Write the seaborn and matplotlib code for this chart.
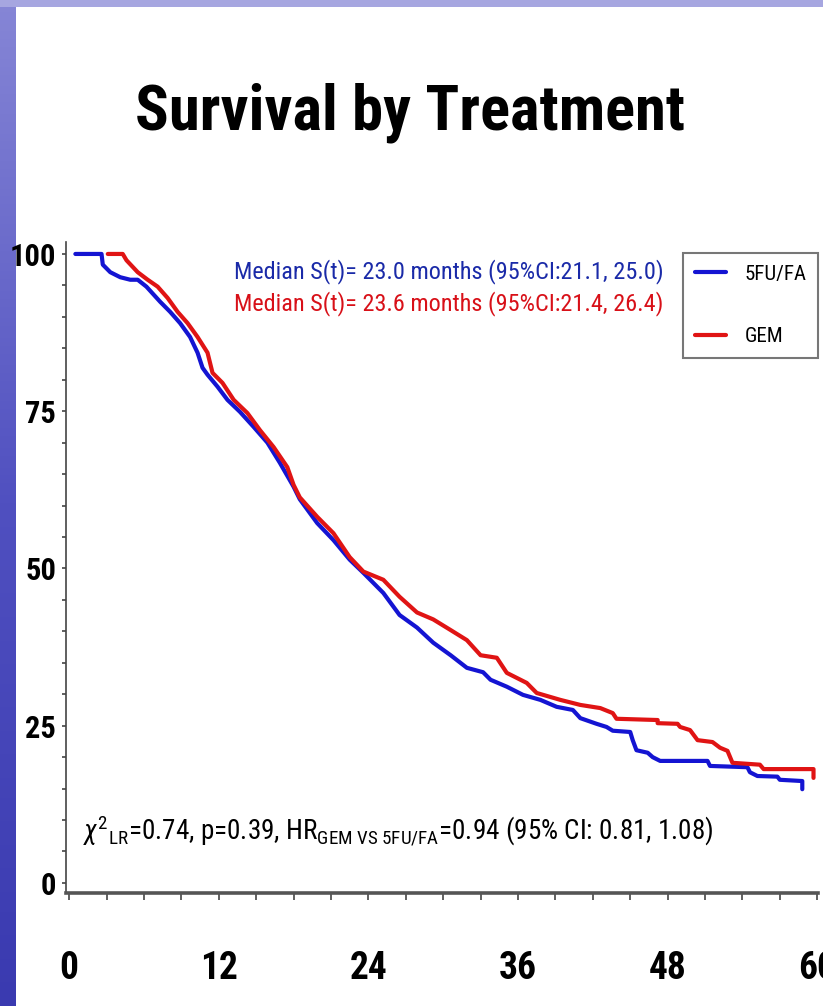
import numpy as np
import pandas as pd
import matplotlib
matplotlib.use("Agg")
import matplotlib.pyplot as plt
import matplotlib.font_manager as fm
import seaborn as sns
from matplotlib.patches import Rectangle
from matplotlib.lines import Line2D

# Kaplan-Meier estimates (months, percent surviving)
months_5fu = [0.5, 2.6, 2.7, 3.3, 4.1, 4.9, 5.5, 6.2, 7.3, 8.1, 8.9, 9.7, 10.3, 10.7,
              11.1, 11.9, 12.7, 13.7, 14.8, 15.9, 16.9, 18.0, 18.5, 19.9, 21.2, 22.5,
              23.6, 25.2, 26.5, 27.9, 29.2, 30.6, 31.9, 33.2, 33.8, 35.1, 36.4, 37.8,
              39.1, 40.4, 41.0, 42.3, 43.1, 43.6, 45.0, 45.2, 45.5, 46.4, 46.8, 47.4,
              51.2, 51.4, 54.4, 54.6, 55.2, 56.8, 57.0, 58.8, 58.8]
surv_5fu = [100, 100, 98.3, 97.1, 96.3, 95.9, 95.9, 94.8, 92.4, 90.8, 89.0, 86.8, 84.3,
            81.9, 80.8, 78.9, 76.8, 74.9, 72.5, 70.0, 66.8, 63.0, 61.0, 57.2, 54.5, 51.4,
            49.3, 46.1, 42.6, 40.6, 38.2, 36.2, 34.2, 33.5, 32.3, 31.2, 29.9, 29.1, 28.0,
            27.5, 26.2, 25.3, 24.8, 24.2, 24.0, 22.7, 21.1, 20.7, 20.0, 19.4, 19.4, 18.6,
            18.4, 17.6, 17.0, 16.9, 16.4, 16.2, 14.9]

months_gem = [3.1, 4.3, 4.6, 5.5, 6.3, 7.1, 7.9, 8.7, 9.5, 10.3, 11.1, 11.5, 12.3, 13.2,
              14.3, 15.3, 16.4, 17.5, 18.0, 18.5, 19.9, 21.2, 22.5, 23.6, 25.2, 26.5,
              27.9, 29.2, 30.6, 31.9, 33.0, 34.3, 35.1, 36.7, 37.5, 39.4, 40.4, 41.0,
              42.6, 43.6, 43.9, 47.2, 47.2, 48.8, 49.0, 49.8, 50.4, 51.6, 52.2, 52.8,
              53.2, 55.4, 55.7, 59.7, 59.7]
surv_gem = [100, 100, 99.0, 97.1, 95.9, 94.8, 93.0, 90.8, 89.0, 86.8, 84.3, 81.1, 79.5,
            76.8, 74.7, 72.0, 69.3, 66.1, 63.3, 61.3, 58.2, 55.6, 51.8, 49.5, 48.2, 45.5,
            43.0, 41.9, 40.2, 38.6, 36.2, 35.8, 33.4, 31.8, 30.2, 29.1, 28.6, 28.3, 27.8,
            27.0, 26.1, 25.9, 25.4, 25.3, 24.8, 24.3, 22.7, 22.4, 21.5, 21.0, 19.1, 18.8,
            18.1, 18.1, 16.7]

arm_names = ["5FU/FA", "GEM"]
arm_colors = ["#1414d2", "#e01414"]
x_ticks = [0, 12, 24, 36, 48, 60]
y_ticks = [0, 25, 50, 75, 100]

median_lines = [
    "Median S(t)= 23.0 months (95%CI:21.1, 25.0)",
    "Median S(t)= 23.6 months (95%CI:21.4, 26.4)",
]
median_colors = ["#1a2aa8", "#d81018"]
stats_text = (r"$\chi^{2}{}_{\mathrm{LR}}$=0.74, p=0.39, "
              r"HR$_{\mathrm{GEM\ VS\ 5FU/FA}}$=0.94 (95% CI: 0.81, 1.08)")
title_text = "Survival by Treatment"

df = pd.concat([
    pd.DataFrame({"month": months_5fu, "survival": surv_5fu, "arm": arm_names[0]}),
    pd.DataFrame({"month": months_gem, "survival": surv_gem, "arm": arm_names[1]}),
], ignore_index=True)

sns.set_theme(style="white")

# pick the narrowest installed sans family
installed = {f.name for f in fm.fontManager.ttflist}
candidates = ["Liberation Sans Narrow", "Noto Sans ExtraCondensed",
              "Noto Sans Condensed", "Roboto Condensed", "Open Sans Condensed",
              "DejaVu Sans Condensed"]
narrow_family = next((c for c in candidates if c in installed), None)
stretch = "normal"
if narrow_family is None:
    narrow_family = "DejaVu Sans"
    stretch = "condensed"
plt.rcParams["font.family"] = [narrow_family, "DejaVu Sans"]
plt.rcParams["font.stretch"] = stretch
plt.rcParams["mathtext.fontset"] = "custom"
plt.rcParams["mathtext.rm"] = narrow_family
plt.rcParams["mathtext.it"] = narrow_family + ":italic"
plt.rcParams["mathtext.bf"] = narrow_family + ":bold"

W, H = 823, 1006
fig = plt.figure(figsize=(W / 100, H / 100), dpi=100)
fig.patch.set_facecolor("white")

# slide frame: lavender band on top, blue band down the left side
bg = fig.add_axes([0, 0, 1, 1], zorder=-10)
grad = np.linspace(0, 1, 256)[:, None]
bg.imshow(grad, aspect="auto", extent=[0, 16 / W, 0, 1],
          cmap=matplotlib.colors.LinearSegmentedColormap.from_list(
              "frame", ["#8686d6", "#5050c0", "#3a3ab0"]), origin="upper")
bg.add_patch(Rectangle((0, 1 - 7 / H), 1, 7 / H, color="#a6a6e0", lw=0))
bg.set_xlim(0, 1)
bg.set_ylim(0, 1)
bg.axis("off")

ax = fig.add_axes([66 / W, 1 - 893 / H, 752 / W, 651 / H])
sns.lineplot(data=df, x="month", y="survival", hue="arm", estimator=None,
             sort=False, palette=arm_colors, linewidth=3.0, ax=ax, legend=False)
ax.set_xlim(-0.25, 60.06)
ax.set_ylim(-1.6, 101.9)
ax.set_xlabel("")
ax.set_ylabel("")

for s in ["top", "right"]:
    ax.spines[s].set_visible(False)
ax.spines["left"].set_color("#444444")
ax.spines["left"].set_linewidth(1.2)
ax.spines["bottom"].set_color("#555555")
ax.spines["bottom"].set_linewidth(2.6)

ax.set_xticks(x_ticks)
ax.set_xticks(np.arange(0, 61, 3), minor=True)
ax.set_yticks(y_ticks)
ax.set_yticks(np.arange(0, 101, 5), minor=True)
ax.set_xticklabels([str(v) for v in x_ticks])
ax.set_yticklabels([str(v) for v in y_ticks])
ax.tick_params(axis="x", which="both", bottom=True, direction="out", length=5,
               width=1.2, color="#444444", pad=36, labelsize=27)
ax.tick_params(axis="y", which="both", left=True, direction="out", length=3,
               width=1.2, color="#444444", pad=4, labelsize=22)
for lab in ax.get_xticklabels() + ax.get_yticklabels():
    lab.set_fontweight("bold")
    lab.set_color("black")

# legend box
handles = [Line2D([0], [0], color=c, lw=3.0) for c in arm_colors]
leg = ax.legend(handles, arm_names, loc="upper right", bbox_to_anchor=(1.0, 0.983),
                frameon=True, fancybox=False, edgecolor="#555555", fontsize=15,
                handlelength=1.5, handletextpad=0.9, borderpad=0.55,
                labelspacing=2.1, borderaxespad=0.0)
leg.get_frame().set_linewidth(1.5)
for t in leg.get_texts():
    t.set_color("black")

# median survival annotations
for i, (txt, col) in enumerate(zip(median_lines, median_colors)):
    ax.text(0.223, 0.955 - i * 0.049, txt, transform=ax.transAxes, color=col,
            fontsize=17.5, ha="left", va="center")

ax.text(0.022, 0.095, stats_text, transform=ax.transAxes, color="black",
        fontsize=19.5, ha="left", va="center")

fig.text(410 / W, 1 - 113 / H, title_text, ha="center", va="center",
         fontsize=45, fontweight="bold", color="black")

fig.savefig("out.png", dpi=100)
